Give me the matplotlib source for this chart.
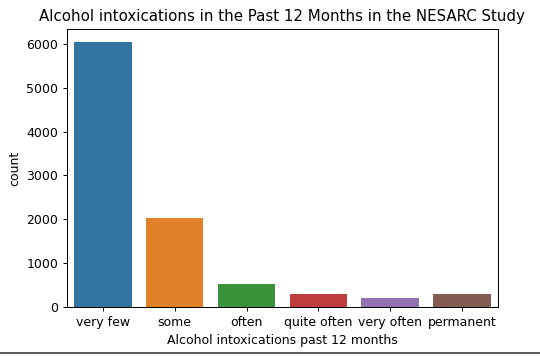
import matplotlib
matplotlib.use("Agg")
import matplotlib.pyplot as plt
from matplotlib.lines import Line2D

categories = ["very few", "some", "often", "quite often", "very often", "permanent"]
counts = [6040, 2035, 525, 287, 205, 287]
colors = ["#3274a1", "#e1812c", "#3a923a", "#c03d3e", "#9372b2", "#845b53"]

fig = plt.figure(figsize=(6.0, 3.967), dpi=90)
ax = fig.add_axes([0.124, 0.140, 0.798, 0.779])
x = range(len(categories))
ax.bar(x, counts, width=0.8, color=colors)
ax.set_xticks(list(x))
ax.set_xticklabels(categories)
ax.set_xlim(-0.5, len(categories) - 0.5)
ax.set_ylim(0, 6340)
ax.set_yticks([0, 1000, 2000, 3000, 4000, 5000, 6000])
ax.set_xlabel("Alcohol intoxications past 12 months")
ax.set_ylabel("count")
ax.set_title("Alcohol intoxications in the Past 12 Months in the NESARC Study")
fig.add_artist(Line2D([0, 1], [0.012, 0.012], transform=fig.transFigure, color="#555555", lw=1.5))
fig.savefig("out.png", dpi=90)
